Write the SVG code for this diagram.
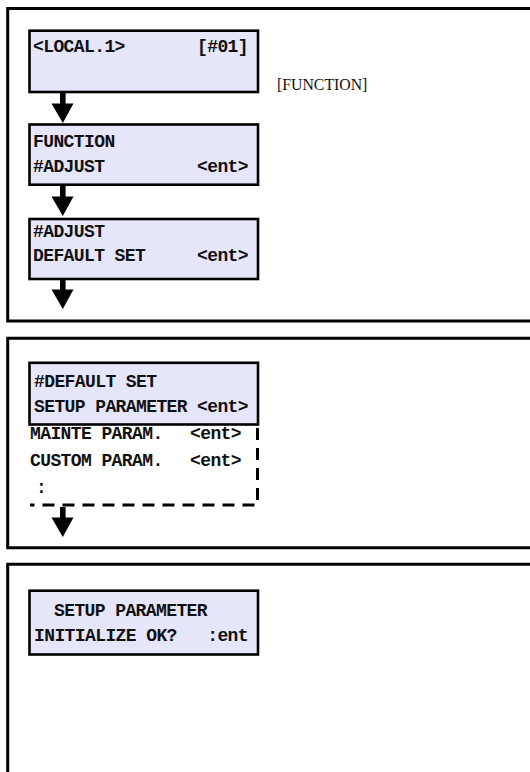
<svg xmlns="http://www.w3.org/2000/svg" width="530" height="772" viewBox="0 0 530 772">
<style>
.panel{fill:none;stroke:#000;stroke-width:3}
.box{fill:#e6e6fa;stroke:#000;stroke-width:2.6}
.t{font-family:"Liberation Mono","Courier New",monospace;font-weight:bold;font-size:18px;letter-spacing:-0.6px;fill:#111}
.e{text-anchor:end}
.lbl{font-family:"Liberation Serif","Times New Roman",serif;font-size:15.8px;fill:#111}
.dash{fill:none;stroke:#000;stroke-width:3;stroke-dasharray:12 8}
.ar{fill:#000}
</style>
<defs>
<g id="arrow"><rect x="60" y="0" width="5.6" height="12"/><polygon points="51.5,10.5 73.5,10.5 62.8,30"/></g>
</defs>
<g id="panels">
<path class="panel" d="M540 8.5H7.7V321H540"/>
<path class="panel" d="M540 338.3H7.7V547.7H540"/>
<path class="panel" d="M540 564.3H7.7V790"/>
</g>
<g id="node1">
<rect class="box" x="29.5" y="30.7" width="228.5" height="61.3"/>
<text class="t" x="33" y="52">&lt;LOCAL.1&gt;</text>
<text class="t e" x="248" y="52">[#01]</text>
</g>
<text id="label-function" class="lbl" x="277" y="90">[FUNCTION]</text>
<g id="node2">
<rect class="box" x="29.5" y="124.5" width="228.5" height="60.2"/>
<text class="t" x="33" y="147">FUNCTION</text>
<text class="t" x="33" y="172">#ADJUST</text>
<text class="t e" x="248" y="172">&lt;ent&gt;</text>
</g>
<g id="node3">
<rect class="box" x="29.5" y="219" width="228.5" height="60"/>
<text class="t" x="33" y="237">#ADJUST</text>
<text class="t" x="33" y="261">DEFAULT SET</text>
<text class="t e" x="248" y="261">&lt;ent&gt;</text>
</g>
<g id="node4">
<rect class="box" x="29.5" y="362.8" width="228.5" height="61.7"/>
<text class="t" x="34" y="387">#DEFAULT SET</text>
<text class="t" x="34" y="412">SETUP PARAMETER</text>
<text class="t e" x="248" y="412">&lt;ent&gt;</text>
</g>
<g id="node4-list">
<text class="t" x="30" y="439">MAINTE PARAM.</text>
<text class="t e" x="241" y="439">&lt;ent&gt;</text>
<text class="t" x="30" y="466">CUSTOM PARAM.</text>
<text class="t e" x="241" y="466">&lt;ent&gt;</text>
<text class="t" x="36" y="493">:</text>
</g>
<g id="node5">
<rect class="box" x="29.5" y="590.7" width="228.5" height="63.8"/>
<text class="t" x="54" y="616">SETUP PARAMETER</text>
<text class="t" x="34" y="641">INITIALIZE OK?</text>
<text class="t e" x="248" y="641">:ent</text>
</g>
<g id="connectors" class="ar">
<use href="#arrow" y="93"/>
<use href="#arrow" y="186"/>
<use href="#arrow" y="279"/>
<path class="dash" d="M257.5 428V505H30"/>
<use href="#arrow" y="507"/>
</g>
</svg>
